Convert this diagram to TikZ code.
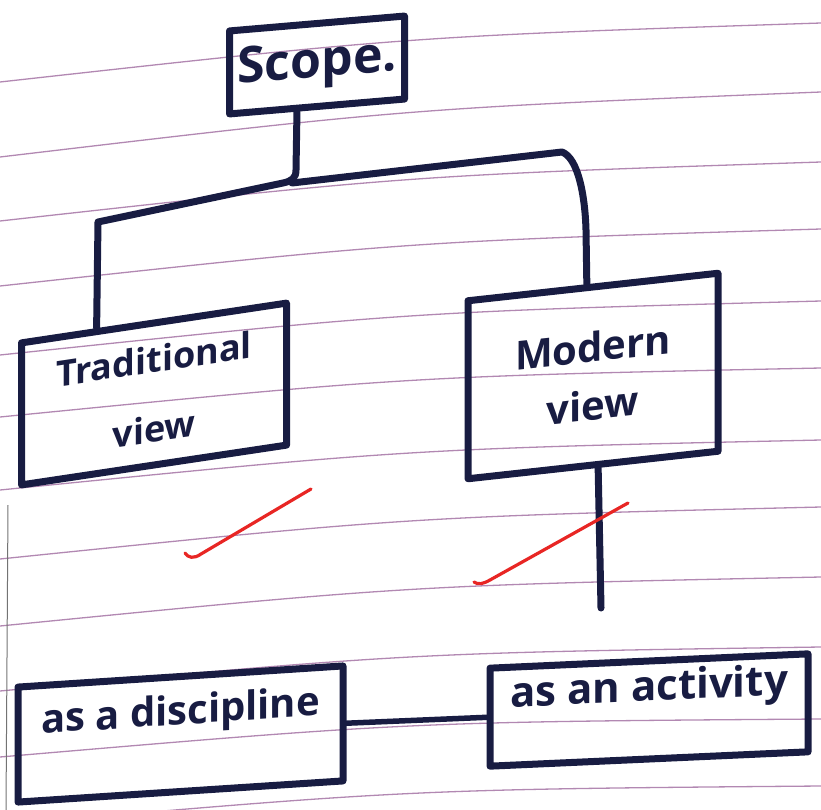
\documentclass[tikz,border=0pt]{standalone}
\usepackage{fontspec}
\setmainfont{Open Sans}
\usetikzlibrary{calc}
\definecolor{ink}{RGB}{24,28,66}
\definecolor{rulecol}{RGB}{178,136,178}
\definecolor{tickcol}{RGB}{232,38,36}
\begin{document}
\begin{tikzpicture}[x=1pt,y=1pt,
  box/.style={draw=ink, line width=7pt, rectangle, inner sep=0pt, text=ink,
    align=center, line join=round},
  wire/.style={draw=ink, line width=7pt, line cap=round, line join=round},
  ruled/.style={draw=rulecol, line width=1.3pt},
  redtick/.style={draw=tickcol, line width=3.2pt, line cap=round, line join=round}]
\useasboundingbox (0,-810) rectangle (821,0);
% ruled paper
\foreach \a/\b in {82/23,157/92,221/162,286/229,355/301,417/368,490/440,559/507,626/577,691/647,757/719,825/786}
  \draw[ruled] (0,-\a) .. controls (410,{-(\a+\b)/2+16}) .. (821,-\b);
\draw[draw=black!55, line width=1pt] (8,-505) -- (6,-810);
% boxes
\node[box, yslant=0.085, minimum width=175pt, minimum height=83pt,
  font=\bfseries\fontsize{50}{54}\selectfont] (scope) at (317,-65) {Scope.};
\node[box, yslant=0.15, minimum width=265pt, minimum height=142pt,
  font=\bfseries\fontsize{36}{70}\selectfont] (trad) at (154,-394) {Traditional\\view};
\node[box, yslant=0.11, minimum width=250pt, minimum height=178pt,
  font=\bfseries\fontsize{40}{58}\selectfont] (modern) at (593,-376) {Modern\\view};
\node[box, yslant=0.065, minimum width=325pt, minimum height=115pt,
  text height=48pt, text depth=67pt,
  font=\bfseries\fontsize{40}{44}\selectfont] (disc) at (180.5,-734) {as a discipline};
\node[box, yslant=0.045, minimum width=318pt, minimum height=98pt,
  text height=40pt, text depth=58pt,
  font=\bfseries\fontsize{42}{46}\selectfont] (act) at (649,-710) {as an activity};
% connectors
\coordinate (j) at (296,-170);
\draw[wire] ([xshift=-20pt]scope.south) -- (j) .. controls (296,-178) and (292,-181) .. (283,-183)
  -- (98,-222) -- ($(trad.north west)!0.289!(trad.north east)$);
\draw[wire] (292,-183) -- (562,-152) .. controls (578,-158) and (585,-195) .. (586,-230)
  -- ($(modern.north west)!0.476!(modern.north east)$);
\coordinate (mfree) at (601,-608);
\draw[wire] ($(modern.south west)!0.52!(modern.south east)$) -- (mfree);
\draw[wire, line width=5.5pt] (disc.east) -- (act.west);
% red ticks
\draw[redtick] (185,-553) .. controls (188,-558) and (194,-559) .. (201,-554) -- (311,-489);
\draw[redtick] (474,-582) .. controls (478,-585) and (483,-584) .. (490,-580) -- (628,-503);
\end{tikzpicture}
\end{document}
